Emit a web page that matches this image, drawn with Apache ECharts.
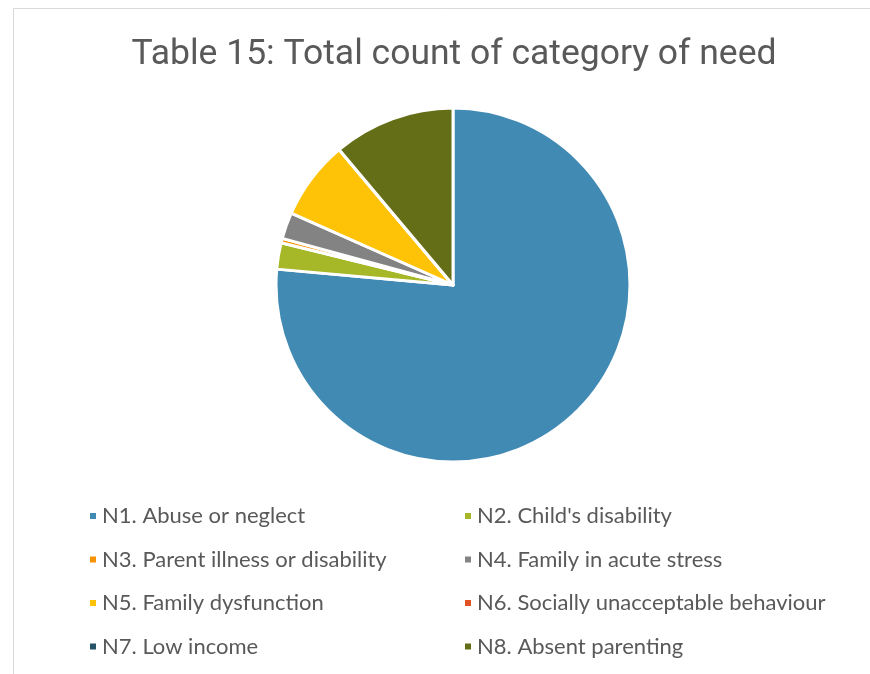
<!DOCTYPE html>
<html>
<head>
<meta charset="utf-8">
<script src="https://cdn.jsdelivr.net/npm/echarts@6/dist/echarts.min.js"></script>
<style>
  html, body { margin: 0; padding: 0; background: #ffffff; }
  #chart { width: 870px; height: 674px; }
</style>
</head>
<body>
<div id="chart"></div>
<script>
// Category of need labels and counts
const categories = [
  'N1. Abuse or neglect',
  "N2. Child's disability",
  'N3. Parent illness or disability',
  'N4. Family in acute stress',
  'N5. Family dysfunction',
  'N6. Socially unacceptable behaviour',
  'N7. Low income',
  'N8. Absent parenting'
];
const counts = [762, 24, 4, 24, 72, 0, 0, 111];
const colors = ['#418AB3', '#A6B727', '#F69200', '#838383', '#FEC306', '#DF5327', '#275367', '#646E17'];

// Legend is laid out in two columns: odd-numbered needs left, even-numbered right
const leftColumn = categories.filter((_, i) => i % 2 === 0);
const rightColumn = categories.filter((_, i) => i % 2 === 1);

const legendText = { color: '#595959', fontSize: 22, fontFamily: 'Lato' };
const legendBase = {
  orient: 'vertical',
  top: 505,
  itemWidth: 8,
  itemHeight: 8,
  itemGap: 21.5,
  icon: 'rect',
  selectedMode: false,
  textStyle: legendText,
  padding: 0
};

const chart = echarts.init(document.getElementById('chart'), null, { renderer: 'canvas' });
chart.setOption({
  backgroundColor: '#ffffff',
  animation: false,
  color: colors,
  title: {
    text: 'Table 15: Total count of category of need',
    left: 449,
    textAlign: 'center',
    top: 32,
    textStyle: { color: '#595959', fontSize: 35.5, fontWeight: 'normal', fontFamily: 'Roboto' }
  },
  graphic: [{
    type: 'rect',
    shape: { x: 13.5, y: 8.5, width: 1000, height: 1000 },
    style: { fill: 'none', stroke: '#d9d9d9', lineWidth: 1 },
    silent: true
  }],
  legend: [
    Object.assign({ left: 88, data: leftColumn }, legendBase),
    Object.assign({ left: 463, data: rightColumn }, legendBase)
  ],
  series: [{
    type: 'pie',
    center: [453, 285],
    radius: 177,
    startAngle: 90,
    clockwise: true,
    label: { show: false },
    labelLine: { show: false },
    itemStyle: { borderColor: '#ffffff', borderWidth: 3 },
    emphasis: { disabled: true },
    data: categories.map((name, i) => ({ name, value: counts[i] }))
  }]
});
</script>
</body>
</html>
